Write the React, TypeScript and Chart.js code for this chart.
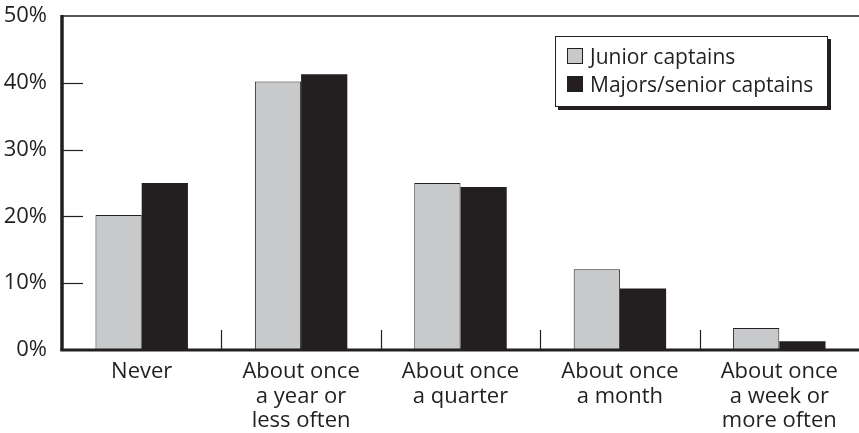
import React, { useEffect, useRef } from "react";
import { Chart, registerables } from "chart.js";

Chart.register(...registerables);

// ---- data ----
const categories: string[][] = [
  ["Never"],
  ["About once", "a year or", "less often"],
  ["About once", "a quarter"],
  ["About once", "a month"],
  ["About once", "a week or", "more often"],
];
const seriesLabels = ["Junior captains", "Majors/senior captains"];
const juniorCaptains = [20.2, 40.2, 25.0, 12.1, 3.3];
const seniorCaptains = [25.0, 41.3, 24.4, 9.2, 1.3];
const yTickValues = [0, 10, 20, 30, 40, 50];

const INK = "#231f20";
const GRAY = "#c8c9cb";
const FONT = "'Open Sans', 'Noto Sans', sans-serif";
const AXIS_FONT_SIZE = 22;
const LEGEND_FONT_SIZE = 21;

const decor = {
  id: "decor",
  afterDatasetsDraw(chart: any) {
    const { ctx, chartArea, scales } = chart;
    const xs = scales.x;
    const ys = scales.y;
    ctx.save();
    ctx.strokeStyle = INK;
    // top frame line
    ctx.lineWidth = 1.5;
    ctx.beginPath();
    ctx.moveTo(chartArea.left, chartArea.top);
    ctx.lineTo(chartArea.right, chartArea.top);
    ctx.stroke();
    // inward y ticks
    ctx.lineWidth = 1.2;
    for (const v of yTickValues) {
      if (v === yTickValues[0] || v === yTickValues[yTickValues.length - 1]) continue;
      const py = Math.round(ys.getPixelForValue(v)) + 0.5;
      ctx.beginPath();
      ctx.moveTo(chartArea.left, py);
      ctx.lineTo(chartArea.left + 21, py);
      ctx.stroke();
    }
    // category separators
    for (let i = 0; i < categories.length - 1; i++) {
      const px = Math.round((xs.getPixelForValue(i) + xs.getPixelForValue(i + 1)) / 2) + 0.5;
      ctx.beginPath();
      ctx.moveTo(px, chartArea.bottom);
      ctx.lineTo(px, chartArea.bottom - 20);
      ctx.stroke();
    }
    // axes
    ctx.lineWidth = 3.5;
    ctx.beginPath();
    ctx.moveTo(chartArea.left, chartArea.top - 1);
    ctx.lineTo(chartArea.left, chartArea.bottom);
    ctx.stroke();
    ctx.lineWidth = 3;
    ctx.beginPath();
    ctx.moveTo(chartArea.left - 1.75, chartArea.bottom);
    ctx.lineTo(chartArea.right, chartArea.bottom);
    ctx.stroke();
    ctx.restore();
  },
};

export default function App() {
  const ref = useRef<HTMLCanvasElement | null>(null);

  useEffect(() => {
    if (!ref.current) return;
    const chart = new Chart(ref.current, {
      type: "bar",
      data: {
        labels: categories,
        datasets: [
          {
            label: seriesLabels[0],
            data: juniorCaptains,
            backgroundColor: GRAY,
            borderColor: INK,
            borderWidth: 1,
          },
          {
            label: seriesLabels[1],
            data: seniorCaptains,
            backgroundColor: INK,
            borderColor: INK,
            borderWidth: 0,
          },
        ],
      },
      options: {
        responsive: false,
        animation: false,
        devicePixelRatio: 1,
        layout: { padding: { top: 15, right: 0, left: 0, bottom: 0 } },
        datasets: { bar: { categoryPercentage: 0.58, barPercentage: 1 } },
        plugins: { legend: { display: false }, tooltip: { enabled: false } },
        scales: {
          x: {
            type: "category",
            offset: true,
            grid: { display: false, drawTicks: false },
            border: { display: false },
            ticks: {
              color: INK,
              font: { family: FONT, size: AXIS_FONT_SIZE, lineHeight: 1.11 },
              padding: 10,
              maxRotation: 0,
              autoSkip: false,
            },
            afterFit: (s: any) => {
              s.height = 83;
            },
          },
          y: {
            min: 0,
            max: 50,
            grid: { display: false, drawTicks: false },
            border: { display: false },
            ticks: {
              stepSize: 10,
              color: INK,
              font: { family: FONT, size: AXIS_FONT_SIZE, lineHeight: 0.1 },
              padding: 15,
              callback: (v: any) => `${v}%`,
            },
            afterFit: (s: any) => {
              s.width = 62;
            },
          },
        },
      },
      plugins: [decor],
    });
    return () => chart.destroy();
  }, []);

  return (
    <div style={{ position: "fixed", left: 0, top: 0, width: 859, height: 433, background: "#fff" }}>
      <canvas ref={ref} width={859} height={433} style={{ display: "block" }} />
      <div
        style={{
          position: "absolute",
          left: 555,
          top: 36,
          width: 273,
          height: 71,
          boxSizing: "border-box",
          border: `1.5px solid ${INK}`,
          boxShadow: `3px 3px 0 ${INK}`,
          background: "#fff",
          paddingTop: 5,
          paddingLeft: 11,
          fontFamily: FONT,
          fontSize: LEGEND_FONT_SIZE,
          color: INK,
        }}
      >
        {seriesLabels.map((label, i) => (
          <div key={label} style={{ display: "flex", alignItems: "center", height: 28 }}>
            <span
              style={{
                display: "inline-block",
                width: 16,
                height: 16,
                boxSizing: "border-box",
                border: `1px solid ${INK}`,
                background: i === 0 ? GRAY : INK,
                marginRight: 7,
                flexShrink: 0,
              }}
            />
            <span style={{ lineHeight: "28px", whiteSpace: "nowrap" }}>{label}</span>
          </div>
        ))}
      </div>
    </div>
  );
}
